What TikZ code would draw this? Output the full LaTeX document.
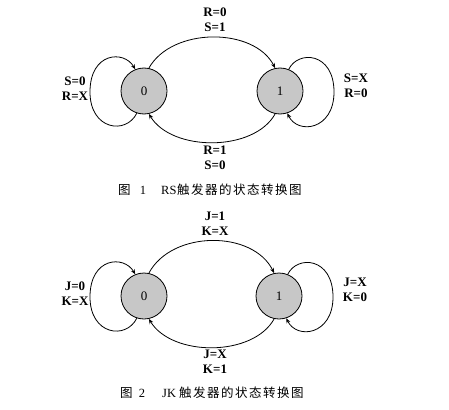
\documentclass[tikz,border=0pt]{standalone}
\usepackage{fontspec}
\setmainfont{Liberation Serif}
\newfontfamily\cjk[LetterSpace=12]{Noto Sans CJK SC}
\usetikzlibrary{arrows.meta}
\begin{document}
\begin{tikzpicture}[x=1pt,y=-1pt,
  state/.style={circle,draw=black,line width=0.8pt,fill=black!22,minimum size=46pt,inner sep=0pt,font=\fontsize{13}{14}\selectfont},
  lbl/.style={align=center,font=\bfseries\fontsize{13}{15}\selectfont,inner sep=0pt},
  captext/.style={inner sep=0pt,font=\fontsize{12.5}{14}\selectfont},
  edge/.style={line width=0.8pt,-{Stealth[length=5pt,width=4pt]}}]
\useasboundingbox (0,0) rectangle (449,409);
% ---------- Figure 1 ----------
\node[state] (a0) at (144,91) {0};
\node[state] (a1) at (280,91) {1};
\draw[edge] (a0.78) .. controls (172,27) and (254,27) .. (a1.102);
\draw[edge] (a1.258) .. controls (254,152) and (172,152) .. (a0.282);
\draw[edge] (a0.252) .. controls (126,135) and (90,130) .. (90,92)
  .. controls (90,52) and (124,50) .. (a0.112);
\draw[edge] (a1.68) .. controls (298,50) and (334,52) .. (334,92)
  .. controls (334,130) and (298,135) .. (a1.288);
\node[lbl] (ta) at (215,20) {R=0\\S=1};
\node[lbl] (la) at (75,89) {S=0\\R=X};
\node[lbl] (ra) at (356,86) {S=X\\R=0};
\node[lbl] (ba) at (215,158) {R=1\\S=0};
\node[captext,anchor=west] (c1a) at (118,190) {\cjk 图};
\node[captext] (c1b) at (143,190) {1};
\node[captext,anchor=west] (c1c) at (161,190) {RS};
\node[captext,anchor=west] (c1d) at (177,190) {\cjk 触发器的状态转换图};
% ---------- Figure 2 ----------
\node[state] (b0) at (144,296) {0};
\node[state] (b1) at (279,296) {1};
\draw[edge] (b0.78) .. controls (172,230) and (253,230) .. (b1.102);
\draw[edge] (b1.258) .. controls (253,357) and (172,357) .. (b0.282);
\draw[edge] (b0.252) .. controls (126,340) and (90,335) .. (90,297)
  .. controls (90,257) and (124,255) .. (b0.112);
\draw[edge] (b1.68) .. controls (297,255) and (333,257) .. (333,297)
  .. controls (333,335) and (297,340) .. (b1.288);
\node[lbl] (tb) at (215,224) {J=1\\K=X};
\node[lbl] (lb) at (75,294) {J=0\\K=X};
\node[lbl] (rb) at (355,290) {J=X\\K=0};
\node[lbl] (bb) at (215,362) {J=X\\K=1};
\node[captext,anchor=west] (c2a) at (120,393) {\cjk 图};
\node[captext] (c2b) at (142,393) {2};
\node[captext,anchor=west] (c2c) at (162,393) {JK};
\node[captext,anchor=west] (c2d) at (179,393) {\cjk 触发器的状态转换图};
\end{tikzpicture}
\end{document}
